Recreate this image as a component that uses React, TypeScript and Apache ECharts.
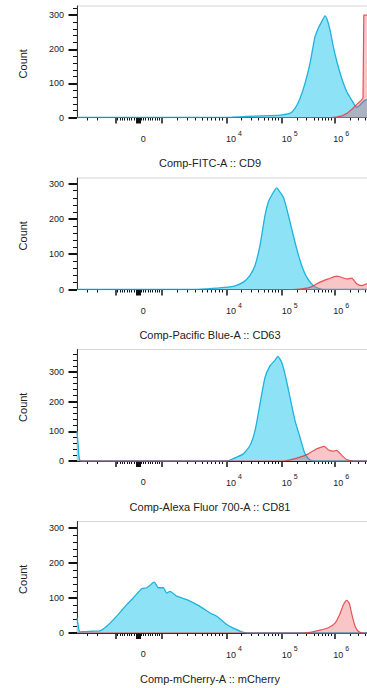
import { useEffect, useRef } from "react";
import * as echarts from "echarts";

// ---- DATA (x in logicle display units = channel offset from the left edge of the axis) ----
const panelTitles = [
  "Comp-FITC-A :: CD9",
  "Comp-Pacific Blue-A :: CD63",
  "Comp-Alexa Fluor 700-A :: CD81",
  "Comp-mCherry-A :: mCherry",
];
const yMaxes = [327, 316, 375, 318];

const blueCD9 = [[0,0],[140,0],[155,1],[170,3],[185,5],[200,6],[205,8],[213,12],[218,27],[223,56],[228,100],[233,159],[238,237],[241.3,262],[244.7,281],[248,298],[250.3,286],[253,257],[256.3,208],[260.3,159],[264.7,115],[269.7,76],[274.7,51],[279.7,30],[283,37],[288,51],[292,52]];
const redCD9 = [[0,0],[255,0],[260,2],[265,5],[270,12],[276,27],[281,42],[284.5,51],[286,58],[286.8,300],[289,300],[292,300]];

const blueCD63 = [[0,0],[115,0],[130,2],[139.7,4],[156.3,9],[166.3,21],[173,40],[178,68],[183,125],[188,210],[191.3,248],[194.7,267],[199.7,288],[203,276],[206.3,262],[209.7,229],[214.7,172],[219.7,115],[224.7,68],[229.7,35],[236.3,11],[243,2],[250,0],[292,0]];
const redCD63 = [[0,0],[215,0],[225,2],[233,6],[243,21],[251.3,30],[259.7,38],[263,36],[269.7,30],[274.7,32],[279.7,16],[284.7,11],[289.7,16],[292,16]];

const blueCD81 = [[0,100],[1,60],[2,15],[3,2],[5,0],[150,0],[156.3,8],[166.3,24],[173,52],[178,102],[183,192],[188,281],[193,320],[198,339],[200.7,352],[204.7,331],[208,292],[213,214],[218,136],[223,80],[228,24],[233,3],[240,0],[292,0]];
const redCD81 = [[0,0],[205,0],[213,4],[223,13],[231.3,24],[238,38],[243,45],[247.3,49],[251.3,38],[256.3,33],[259.7,36],[264.7,19],[269.7,5],[276.3,0],[292,0]];

const blueMCherry = [[0,43],[1,25],[2,8],[3,3],[6,4],[15,5],[23,6],[29.7,19],[39.7,48],[49.7,81],[56.3,100],[64.7,126],[69.7,129],[77.3,145],[81.3,129],[86.3,129],[89.7,114],[93,119],[99.7,105],[109.7,95],[123,76],[133,57],[139.7,48],[149.7,24],[156.3,14],[166.3,2],[175,0],[292,0]];
const redMCherry = [[0,0],[225,0],[233,2],[243,8],[251.3,15],[258,28],[263,55],[266.3,80],[269.7,93],[272.3,85],[274.7,55],[278,20],[281.3,5],[286.3,0],[292,0]];

const blueSeries = [blueCD9, blueCD63, blueCD81, blueMCherry];
const redSeries = [redCD9, redCD63, redCD81, redMCherry];

// x-axis ticks (display units)
const xMinorTicks = [10.3, 20.3,
  40.6, 42.9, 45.2, 47.5, 49.9, 52.2, 54.5, 56.8, 59.2,
  63.8, 66.2, 68.5, 70.8, 73.1, 75.5, 77.8, 80.1, 82.4,
  100, 110, 118.5, 125, 130.5, 134.5, 138.5, 142, 145.3,
  164.7, 174.7, 181.3, 187.3, 191.3, 195.3, 198, 201.3,
  220.7, 229.7, 237, 241.3, 245.3, 248.7, 251.3, 254,
  273, 281.3, 288.5];
const xMajorTicks = [38.5, 85, 149.5, 205, 257.3];
const xZeroTick = [61.3];
const xLabelPositions = [63.7, 149, 204.7, 256.3];
const xTickLabels = ["0", "10^4", "10^5", "10^6"];

const yMajorTicks = [0, 100, 200, 300];
const yMinorStep = 20;

// ---- LAYOUT ----
const FONT = "'Liberation Sans', Arial, Helvetica, sans-serif";
const PANEL_TOPS = [6, 178, 349.5, 521.5];
const PLOT_H = 111.5;
const PLOT_LEFT = 77;
const PLOT_W = 300;
const X_MAX = 300;

function labelRich(v: number) {
  const idx = xLabelPositions.findIndex((p) => Math.abs(p - v) < 0.01);
  if (idx < 0) return "";
  const t = xTickLabels[idx];
  if (t.includes("^")) {
    const [b, e] = t.split("^");
    return `{b|${b}}{s|${e}}`;
  }
  return `{z|${t}}`;
}

function buildOption() {
  const grid: any[] = [];
  const xAxis: any[] = [];
  const yAxis: any[] = [];
  const series: any[] = [];
  const graphic: any[] = [];

  PANEL_TOPS.forEach((top, i) => {
    const g0 = grid.length;
    const rect = { left: PLOT_LEFT, top, width: PLOT_W, height: PLOT_H, containLabel: false, outerBoundsMode: "none" };
    grid.push({ ...rect, show: true, borderColor: "#d6d6d6", borderWidth: 1, backgroundColor: "#ffffff" });
    grid.push({ ...rect });
    grid.push({ ...rect });

    const yMax = yMaxes[i];
    const yMinor: number[] = [];
    for (let v = yMinorStep; v < yMax; v += yMinorStep) if (v % 100 !== 0) yMinor.push(v);

    const xBase = { type: "value", min: 0, max: X_MAX, splitLine: { show: false } };
    xAxis.push({
      ...xBase,
      gridIndex: g0,
      axisLine: { show: true, lineStyle: { color: "#222", width: 1 } },
      axisTick: { show: true, customValues: xMinorTicks, length: 3, lineStyle: { color: "#111", width: 1 } },
      axisLabel: {
        show: true,
        customValues: xLabelPositions,
        margin: 9,
        align: "left",
        formatter: (v: number) => labelRich(v),
        rich: {
          z: { fontSize: 9, lineHeight: 24, color: "#222", fontFamily: FONT },
          b: { fontSize: 9, lineHeight: 12, padding: [13, 0, 0, 0], color: "#222", fontFamily: FONT },
          s: { fontSize: 7, lineHeight: 12, padding: [3, 0, 0, 2], verticalAlign: "top", color: "#222", fontFamily: FONT },
        },
      },
    });
    xAxis.push({
      ...xBase,
      gridIndex: g0 + 1,
      axisLine: { show: false },
      axisTick: { show: true, customValues: xMajorTicks, length: 6, lineStyle: { color: "#111", width: 1.5 } },
      axisLabel: { show: false },
    });
    xAxis.push({
      ...xBase,
      gridIndex: g0 + 2,
      axisLine: { show: false },
      axisTick: { show: true, customValues: xZeroTick, length: 6, lineStyle: { color: "#111", width: 5 } },
      axisLabel: { show: false },
    });

    const yBase = { type: "value", min: 0, max: yMax, splitLine: { show: false } };
    yAxis.push({
      ...yBase,
      gridIndex: g0,
      axisLine: { show: true, lineStyle: { color: "#333", width: 1 } },
      axisTick: { show: true, customValues: yMajorTicks, length: 8.5, lineStyle: { color: "#111", width: 2 } },
      axisLabel: { show: true, customValues: yMajorTicks, margin: 13, fontSize: 9, color: "#222", fontFamily: FONT },
    });
    yAxis.push({
      ...yBase,
      gridIndex: g0 + 1,
      axisLine: { show: false },
      axisTick: { show: true, customValues: yMinor, length: 4, lineStyle: { color: "#111", width: 1 } },
      axisLabel: { show: false },
    });
    yAxis.push({ ...yBase, gridIndex: g0 + 2, show: false });

    series.push({
      type: "line",
      xAxisIndex: g0,
      yAxisIndex: g0,
      data: blueSeries[i],
      showSymbol: false,
      symbol: "none",
      smooth: 0.2,
      lineStyle: { color: "#1eb2de", width: 1.3 },
      areaStyle: { color: "#8ee2f6", opacity: 1 },
      z: 2,
    });
    series.push({
      type: "line",
      xAxisIndex: g0,
      yAxisIndex: g0,
      data: redSeries[i],
      showSymbol: false,
      symbol: "none",
      smooth: i === 0 ? false : 0.2,
      lineStyle: { color: "#e23a40", width: 1.2, opacity: 0.85 },
      areaStyle: { color: "rgba(236,72,78,0.45)" },
      z: 3,
    });

    graphic.push({
      type: "text",
      x: 22.5,
      y: top + PLOT_H / 2 + 2,
      rotation: Math.PI / 2,
      style: { text: "Count", fontSize: 11, fontFamily: FONT, fill: "#222", align: "center", verticalAlign: "middle" },
    });
    graphic.push({
      type: "text",
      x: 210,
      y: top + PLOT_H + 45.8,
      style: { text: panelTitles[i], fontSize: 11, fontFamily: FONT, fill: "#222", align: "center", verticalAlign: "middle" },
    });
  });

  return {
    animation: false,
    backgroundColor: "#ffffff",
    grid,
    xAxis,
    yAxis,
    series,
    graphic,
  };
}

export default function App() {
  const ref = useRef<HTMLDivElement>(null);
  useEffect(() => {
    if (!ref.current) return;
    const chart = echarts.init(ref.current, null, { renderer: "svg" });
    chart.setOption(buildOption() as any);
    return () => chart.dispose();
  }, []);
  return (
    <div
      ref={ref}
      style={{ position: "absolute", left: 0, top: 0, width: 367, height: 688, overflow: "hidden" }}
    />
  );
}
